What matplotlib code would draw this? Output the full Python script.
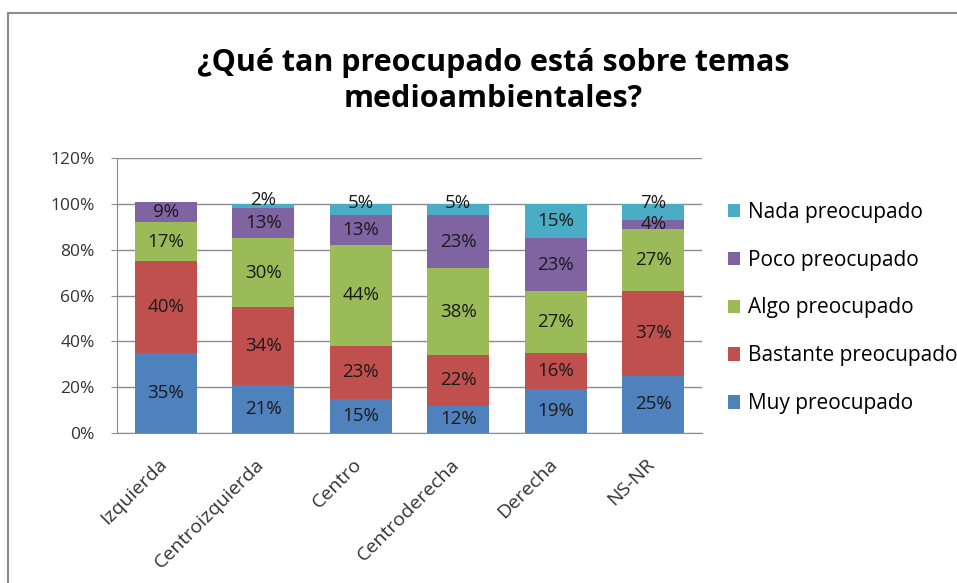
import numpy as np
import matplotlib.pyplot as plt
import matplotlib.transforms as mtransforms
from matplotlib.patches import Rectangle

categorias = ['Izquierda', 'Centroizquierda', 'Centro', 'Centroderecha', 'Derecha', 'NS-NR']
muy = [35, 21, 15, 12, 19, 25]
bastante = [40, 34, 23, 22, 16, 37]
algo = [17, 30, 44, 38, 27, 27]
poco = [9, 13, 13, 23, 23, 4]
nada = [0, 2, 5, 5, 15, 7]

series = [('Muy preocupado', muy, '#4F81BD'),
          ('Bastante preocupado', bastante, '#C0504D'),
          ('Algo preocupado', algo, '#9BBB59'),
          ('Poco preocupado', poco, '#8064A2'),
          ('Nada preocupado', nada, '#4BACC6')]

plt.rcParams['font.family'] = ['Open Sans', 'DejaVu Sans']

fig = plt.figure(figsize=(9.57, 5.83), dpi=100)
# chart frame
fig.patches.append(Rectangle((8 / 957, -0.05), 1.0, 1 - 13 / 583 + 0.05, transform=fig.transFigure,
                             fill=False, edgecolor='#8c8c8c', linewidth=1.5))

ax = fig.add_axes([117 / 957, 150 / 583, 585 / 957, 275 / 583])
x = np.arange(len(categorias))
bottom = np.zeros(len(categorias))
handles = []
for nombre, vals, color in series:
    vals = np.array(vals, dtype=float)
    b = ax.bar(x, vals, 0.64, bottom=bottom, color=color, label=nombre, zorder=2)
    handles.append(b)
    for xi, v, b0 in zip(x, vals, bottom):
        if v == 0:
            continue
        y = b0 + v / 2
        if v <= 2:
            y = b0 + v + 1.5
        elif nombre == 'Nada preocupado' and v < 10:
            y = b0 + v + 0.5
        ax.text(xi, y, f'{int(v)}%', ha='center', va='center', fontsize=13.5, color='#1a1a1a', zorder=3)
    bottom += vals

ax.set_ylim(0, 120)
ax.set_xlim(-0.5, len(categorias) - 0.5)
ax.set_yticks(np.arange(0, 121, 20))
ax.set_yticklabels([f'{t}%' for t in range(0, 121, 20)], fontsize=12.5, color='#333333')
ax.yaxis.grid(True, color='#8c8c8c', linewidth=1, zorder=0)
ax.set_axisbelow(True)
ax.set_xticks(x)
ax.set_xticklabels(categorias, rotation=45, ha='right', rotation_mode='anchor', fontsize=14, color='#333333')
ax.tick_params(axis='x', length=0, pad=16)
ax.tick_params(axis='y', length=4, color='#8c8c8c', pad=12)
shift = mtransforms.ScaledTranslation(-8 / 100, 0, fig.dpi_scale_trans)
for lbl in ax.get_xticklabels():
    lbl.set_transform(lbl.get_transform() + shift)
for s in ['top', 'right']:
    ax.spines[s].set_visible(False)
ax.spines['left'].set_color('#8c8c8c')
ax.spines['bottom'].set_color('#8c8c8c')

fig.text(0.515, 1 - 81 / 583, '¿Qué tan preocupado está sobre temas\nmedioambientales?', ha='center', va='center',
         fontsize=22, fontweight='bold', linespacing=1.25)

ax.legend(handles[::-1], [s[0] for s in series][::-1], loc='upper left',
          bbox_to_anchor=(709 / 957, 1 - 183 / 583), bbox_transform=fig.transFigure,
          frameon=False, fontsize=15, handlelength=0.6, handleheight=0.6, handletextpad=0.35,
          labelspacing=1.29)

fig.savefig('out.png', dpi=100)
